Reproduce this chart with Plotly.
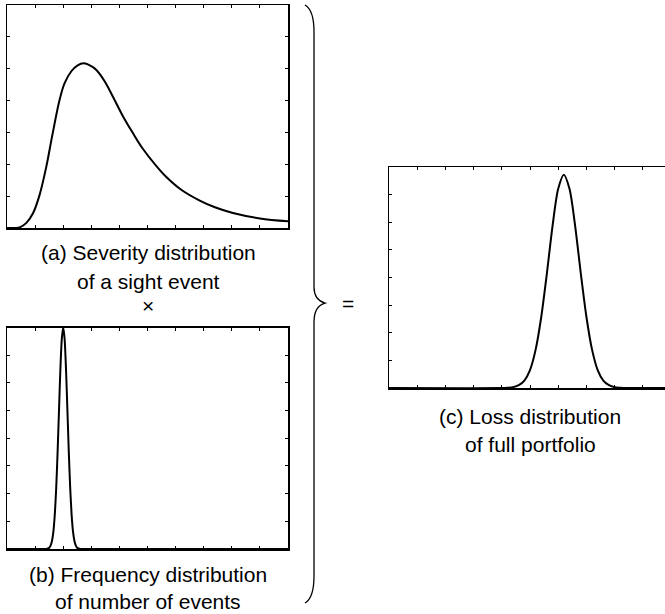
import plotly.graph_objects as go

W, H = 665, 614

# ---- data ----
# (a) severity distribution of a single event
sev_x = [0.0, 0.3, 0.45, 0.69, 0.93, 1.16, 1.40, 1.61, 1.87, 2.05, 2.29, 2.5, 2.74, 3.0,
         3.18, 3.48, 3.77, 4.1, 4.48, 4.84, 5.31, 5.67, 6.2, 6.86, 7.4, 8.04, 9.0, 10.0]
sev_y = [0.0, 0.0, 0.02, 0.16, 0.47, 1.04, 1.93, 2.90, 4.02, 4.55, 4.92, 5.10, 5.17, 5.08,
         4.96, 4.60, 4.12, 3.55, 2.98, 2.48, 1.95, 1.60, 1.20, 0.86, 0.65, 0.47, 0.30, 0.21]

# (b) frequency distribution of number of events
freq_x = [0.0, 1.2, 1.4, 1.5, 1.55, 1.6, 1.65, 1.7, 1.75, 1.8, 1.85, 1.9, 1.95, 2.0,
          2.05, 2.1, 2.15, 2.2, 2.25, 2.3, 2.35, 2.4, 2.45, 2.5, 2.6, 2.8, 10.0]
freq_y = [0.0, 0.0, 0.0, 0.04, 0.12, 0.29, 0.62, 1.23, 2.18, 3.48, 5.0, 6.5, 7.59, 8.0,
          7.59, 6.5, 5.0, 3.48, 2.18, 1.23, 0.62, 0.29, 0.12, 0.04, 0.0, 0.0, 0.0]

# (c) loss distribution of full portfolio
loss_x = [0.0, 4.0, 4.2, 4.4, 4.6, 4.8, 5.0, 5.2, 5.4, 5.6, 5.8, 6.0, 6.2,
          6.4, 6.6, 6.8, 7.0, 7.2, 7.4, 7.6, 7.8, 8.0, 8.2, 8.4, 9.79]
loss_y = [0.0, 0.0, 0.01, 0.03, 0.10, 0.27, 0.65, 1.39, 2.58, 4.16, 5.87, 7.21, 7.72,
          7.21, 5.87, 4.16, 2.58, 1.39, 0.65, 0.27, 0.10, 0.03, 0.01, 0.0, 0.0]

labels = {
    "a": ["(a) Severity distribution", "of a sight event"],
    "b": ["(b) Frequency distribution", "of number of events"],
    "c": ["(c) Loss distribution", "of full portfolio"],
}

def px_x(v):
    return v / W

def px_y(v):
    return 1 - v / H

FONT = "Liberation Sans, Arial, Helvetica, sans-serif"
LINE = dict(color="black", width=2)

fig = go.Figure()
fig.add_trace(go.Scatter(x=sev_x, y=sev_y, mode="lines", line=dict(shape="spline", smoothing=1.0, **LINE),
                         xaxis="x", yaxis="y", hoverinfo="skip"))
fig.add_trace(go.Scatter(x=freq_x, y=freq_y, mode="lines", line=dict(shape="spline", smoothing=0.6, **LINE),
                         xaxis="x2", yaxis="y2", hoverinfo="skip"))
fig.add_trace(go.Scatter(x=loss_x, y=loss_y, mode="lines", line=dict(shape="spline", smoothing=0.8, **LINE),
                         xaxis="x3", yaxis="y3", hoverinfo="skip"))

def ax(domain, rng, dtick, mirror, anchor):
    return dict(domain=domain, range=rng, dtick=dtick, tick0=0, showline=True, linecolor="black",
                linewidth=1.5, mirror=mirror, ticks="inside", ticklen=3, tickwidth=1,
                tickcolor="black", showticklabels=False, showgrid=False, zeroline=False,
                anchor=anchor, fixedrange=True)

xa = [px_x(7), px_x(288)]
fig.update_layout(
    width=W, height=H, margin=dict(l=0, r=0, t=0, b=0),
    paper_bgcolor="white", plot_bgcolor="white", showlegend=False, hovermode=False,
    xaxis=ax(xa, [0, 10], 1, "ticks", "y"),
    yaxis=ax([px_y(228), px_y(5)], [0, 7], 1, "ticks", "x"),
    xaxis2=ax(xa, [0, 10], 1, "ticks", "y2"),
    yaxis2=ax([px_y(549), px_y(327.5)], [0, 8], 1, "ticks", "x2"),
    xaxis3=ax([px_x(389), 1], [0, (665 - 389) / 28.2], 1, "ticks", "y3"),
    yaxis3=ax([px_y(388), px_y(167)], [0, 8], 1, False, "x3"),
)

def txt(s, x, y, size=21):
    fig.add_annotation(text=s, x=px_x(x), y=px_y(y), xref="paper", yref="paper",
                       xanchor="center", yanchor="middle", showarrow=False,
                       font=dict(family=FONT, size=size, color="black"))

txt(labels["a"][0], 148, 253)
txt(labels["a"][1], 148, 281)
txt("×", 148, 305)
txt(labels["b"][0], 148, 574)
txt(labels["b"][1], 148, 601)
txt(labels["c"][0], 530, 416)
txt(labels["c"][1], 530, 444)
txt("=", 348, 303)

# brace
def P(x, y):
    return f"{px_x(x):.5f},{px_y(y):.5f}"

path = (f"M {P(305,5)} Q {P(314,10)} {P(314,32)} L {P(314,287)} "
        f"Q {P(314,300)} {P(325,303)} Q {P(314,306)} {P(314,322)} "
        f"L {P(314,576)} Q {P(314,598)} {P(305,603)}")
fig.add_shape(type="path", path=path, xref="paper", yref="paper",
              line=dict(color="black", width=1.3))

fig.write_html("out.html",
               config={"staticPlot": True, "displayModeBar": False},
               post_script="document.body.style.margin='0';document.body.style.overflow='hidden';")
